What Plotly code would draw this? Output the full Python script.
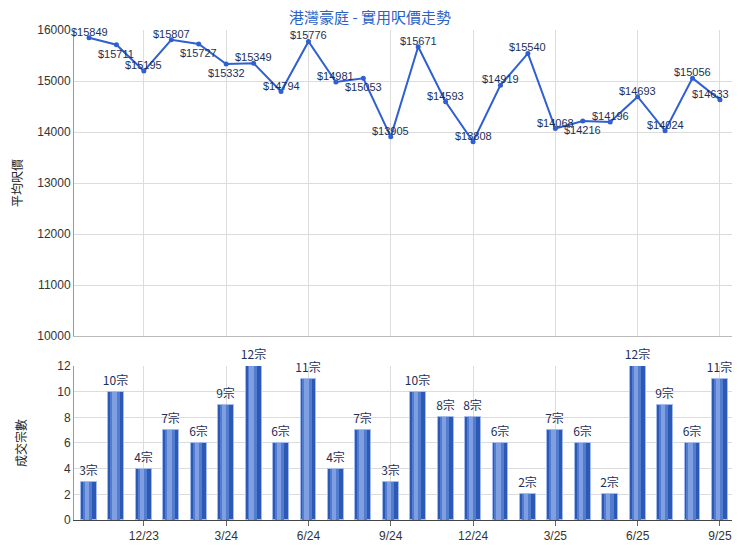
import plotly.graph_objects as go

months = ['10/23', '11/23', '12/23', '1/24', '2/24', '3/24', '4/24', '5/24', '6/24',
          '7/24', '8/24', '9/24', '10/24', '11/24', '12/24', '1/25', '2/25', '3/25',
          '4/25', '5/25', '6/25', '7/25', '8/25', '9/25']
prices = [15849, 15711, 15195, 15807, 15727, 15332, 15349, 14794, 15776, 14981, 15053, 13905,
          15671, 14593, 13808, 14919, 15540, 14068, 14216, 14196, 14693, 14024, 15056, 14633]
counts = [3, 10, 4, 7, 6, 9, 12, 6, 11, 4, 7, 3, 10, 8, 8, 6, 2, 7, 6, 2, 12, 9, 6, 11]
# label placement: 1 = above point, -1 = below point
label_side = [1, -1, 1, 1, -1, -1, 1, 1, 1, 1, -1, 1, 1, 1, 1, 1, 1, 1, -1, 1, 1, 1, 1, 1]
tick_labels = ['12/23', '3/24', '6/24', '9/24', '12/24', '3/25', '6/25', '9/25']

xs = list(range(len(months)))
tickvals = [i for i, m in enumerate(months) if m in tick_labels]
ticktext = [months[i] for i in tickvals]

FONT = "Liberation Sans, Arial, sans-serif"
CJK = "Noto Sans CJK TC, sans-serif"
LINE_BLUE = "#2f5fd0"
LABEL_COL = "#1c2f5a"

fig = go.Figure()

fig.add_trace(go.Scatter(
    x=xs, y=prices, mode="lines+markers",
    line=dict(color=LINE_BLUE, width=2),
    marker=dict(color=LINE_BLUE, size=5),
    xaxis="x", yaxis="y", cliponaxis=False, showlegend=False))

last = len(xs) - 1
for x, p, s in zip(xs, prices, label_side):
    edge = (x == last)  # keep the right-most label inside the visible page
    fig.add_annotation(x=x, y=p, xref="x", yref="y", text=f"${p}", showarrow=False,
                       yshift=6 if s > 0 else -9,
                       xanchor="right" if edge else "center", xshift=11 if edge else 0,
                       font=dict(family=FONT, size=11, color=LABEL_COL))

# bars with pseudo-gradient (overlaid layers)
fig.add_trace(go.Bar(
    x=xs, y=counts, width=0.58, offset=-0.29,
    marker=dict(color="#2c58b6", line=dict(color="#a4bcec", width=1)),
    text=[f"{c}宗" for c in counts], textposition="outside", constraintext="none",
    textfont=dict(family=CJK, size=12, color=LABEL_COL),
    cliponaxis=False, xaxis="x2", yaxis="y2", showlegend=False))
fig.add_trace(go.Bar(
    x=xs, y=counts, width=0.34, offset=-0.22,
    marker=dict(color="#527cd0", line=dict(width=0)),
    xaxis="x2", yaxis="y2", showlegend=False))
fig.add_trace(go.Bar(
    x=xs, y=counts, width=0.16, offset=-0.15,
    marker=dict(color="#7f9fe0", line=dict(width=0)),
    xaxis="x2", yaxis="y2", showlegend=False))

xr = [-0.547, len(months) - 0.56]
grid = "#dcdcdc"
tickfont = dict(family=FONT, size=12, color="#333333")

# page body has an 8px margin, so the figure is sized / offset to compensate
fig.update_layout(
    width=724, height=534,
    margin=dict(l=66, r=0, t=22, b=22, autoexpand=False),
    paper_bgcolor="white", plot_bgcolor="white",
    barmode="overlay", bargap=0,
    title=dict(text="港灣豪庭 - 實用呎價走勢", x=0.5, xanchor="center", y=0.981, yanchor="middle",
               font=dict(family=CJK, size=15, color="#2a62c9")),
    xaxis=dict(domain=[0, 1], range=xr, tickvals=tickvals, showticklabels=False,
               showgrid=True, gridcolor=grid, zeroline=False, anchor="y", automargin=False,
               showline=True, linecolor="#bbbbbb", linewidth=1),
    yaxis=dict(domain=[0.3755, 1], range=[10000, 16000], dtick=1000, tickformat="d",
               showgrid=True, gridcolor=grid, zeroline=False, automargin=False,
               showline=True, linecolor="#999999", linewidth=1,
               tickfont=tickfont, ticks="",
               title=dict(text="平均呎價", font=dict(family=CJK, size=12, color="#222222"), standoff=13)),
    xaxis2=dict(domain=[0, 1], range=xr, tickvals=tickvals, ticktext=ticktext,
                showgrid=True, gridcolor=grid, zeroline=False, anchor="y2", automargin=False,
                showline=True, linecolor="#444444", linewidth=1,
                ticks="outside", ticklen=5, tickcolor="#666666", tickfont=tickfont),
    yaxis2=dict(domain=[0, 0.3143], range=[0, 12], dtick=2,
                showgrid=True, gridcolor=grid, zeroline=False, automargin=False,
                showline=True, linecolor="#999999", linewidth=1,
                tickfont=tickfont, ticks="",
                title=dict(text="成交宗數", font=dict(family=CJK, size=12, color="#222222"), standoff=28)),
)

fig.write_html("out.html")
